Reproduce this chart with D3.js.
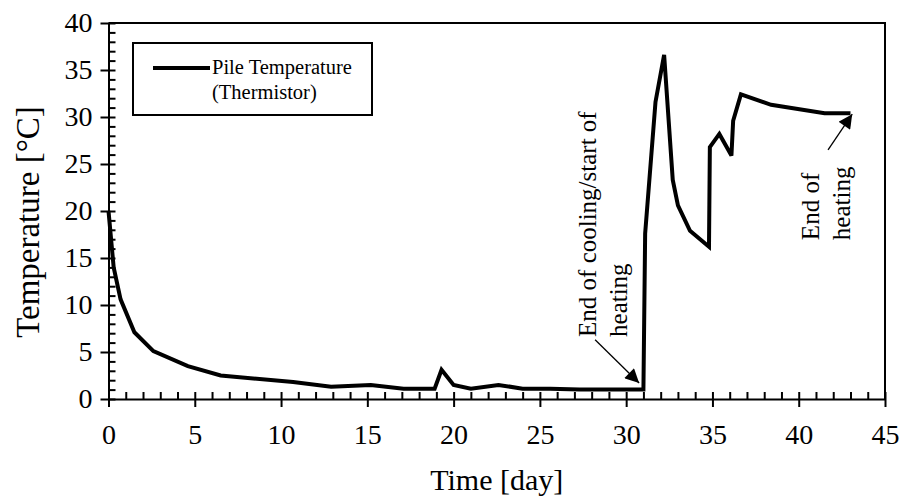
<!DOCTYPE html>
<html>
<head>
<meta charset="utf-8">
<script src="https://cdn.jsdelivr.net/npm/d3@7"></script>
<style>
  html, body { margin: 0; padding: 0; background: #fff; }
  svg { display: block; }
  text { font-family: "Liberation Serif", "Times New Roman", serif; fill: #000; }
</style>
</head>
<body>
<svg id="chart" width="902" height="497"></svg>
<script>
// ---- data ----
const timeDays = [0, 0.3, 0.7, 1.5, 2.6, 4.6, 6.5, 10.7, 12.9, 15.2, 17.1, 18.9, 19.3, 20.0, 21.0, 22.6, 24.0, 25.6, 27.3, 29.6, 31.0, 31.1, 31.7, 32.2, 32.7, 33.0, 33.7, 34.8, 34.85, 35.4, 36.1, 36.2, 36.65, 38.4, 41.5, 43.0];
const pileTemp = [20.0, 14.0, 10.6, 7.1, 5.1, 3.5, 2.5, 1.8, 1.3, 1.5, 1.1, 1.1, 3.1, 1.5, 1.1, 1.5, 1.1, 1.1, 1.0, 1.0, 1.0, 17.6, 31.6, 36.6, 23.3, 20.6, 17.9, 16.2, 26.8, 28.2, 25.9, 29.6, 32.4, 31.3, 30.4, 30.4];
const xTicks = [0, 5, 10, 15, 20, 25, 30, 35, 40, 45];
const yTicks = [0, 5, 10, 15, 20, 25, 30, 35, 40];
const seriesName = ["Pile Temperature", "(Thermistor)"];
const xTitle = "Time [day]";
const yTitle = "Temperature [°C]";
const note1Lines = ["End of cooling/start of", "heating"];
const note2Lines = ["End of", "heating"];

// ---- layout ----
const svg = d3.select("#chart");
const x = d3.scaleLinear().domain([0, 45]).range([108.5, 885]);
const y = d3.scaleLinear().domain([0, 40]).range([399, 23]);

svg.append("defs").append("marker")
  .attr("id", "arrow").attr("viewBox", "0 0 10 10")
  .attr("refX", 10).attr("refY", 5)
  .attr("markerWidth", 16).attr("markerHeight", 14)
  .attr("markerUnits", "userSpaceOnUse")
  .attr("orient", "auto")
  .append("path").attr("d", "M0,0 L10,5 L0,10 z").attr("fill", "#000");

// plot frame (top and right)
svg.append("path")
  .attr("d", `M${x(0)},${y(40)} H${x(45)} V${y(0)}`)
  .attr("fill", "none").attr("stroke", "#000").attr("stroke-width", 2);

// minor ticks (inside)
const minorX = d3.range(0, 46, 1).filter(v => v % 5 !== 0);
const minorY = d3.range(0, 41, 1).filter(v => v % 5 !== 0);
svg.append("g").attr("transform", `translate(0,${y(0)})`)
  .call(d3.axisBottom(x).tickValues(minorX).tickSize(-7).tickFormat(""))
  .call(g => g.select(".domain").remove())
  .selectAll("line").attr("stroke-width", 2);
svg.append("g").attr("transform", `translate(${x(0)},0)`)
  .call(d3.axisLeft(y).tickValues(minorY).tickSize(-7).tickFormat(""))
  .call(g => g.select(".domain").remove())
  .selectAll("line").attr("stroke-width", 2);

// major axes
const xAxis = svg.append("g").attr("transform", `translate(0,${y(0)})`)
  .call(d3.axisBottom(x).tickValues(xTicks).tickSize(8).tickPadding(17).tickSizeOuter(0));
xAxis.selectAll(".tick line").attr("y1", -7).attr("stroke-width", 2);
xAxis.select(".domain").attr("stroke-width", 2);
xAxis.selectAll("text").attr("font-size", 28).attr("font-family", "Liberation Serif");

const yAxis = svg.append("g").attr("transform", `translate(${x(0)},0)`)
  .call(d3.axisLeft(y).tickValues(yTicks).tickSize(8).tickPadding(8).tickSizeOuter(0));
yAxis.selectAll(".tick line").attr("x1", 7).attr("stroke-width", 2);
yAxis.select(".domain").attr("stroke-width", 2);
yAxis.selectAll("text").attr("font-size", 28).attr("font-family", "Liberation Serif");

// axis titles
svg.append("text").attr("x", (x(0) + x(45)) / 2).attr("y", 490)
  .attr("text-anchor", "middle").attr("font-size", 30).text(xTitle);
svg.append("text").attr("transform", `translate(39,222) rotate(-90)`)
  .attr("text-anchor", "middle").attr("font-size", 33).text(yTitle);

// data line
const pts = timeDays.map((t, i) => [t, pileTemp[i]]);
svg.append("path").datum(pts)
  .attr("fill", "none").attr("stroke", "#000").attr("stroke-width", 4)
  .attr("stroke-linejoin", "miter").attr("stroke-miterlimit", 3)
  .attr("d", d3.line().x(d => x(d[0])).y(d => y(d[1])));

// legend
const lg = svg.append("g");
lg.append("rect").attr("x", 133).attr("y", 43).attr("width", 239).attr("height", 72)
  .attr("fill", "#fff").attr("stroke", "#000").attr("stroke-width", 2);
lg.append("line").attr("x1", 153).attr("x2", 210).attr("y1", 68).attr("y2", 68)
  .attr("stroke", "#000").attr("stroke-width", 4);
lg.selectAll("text.lg").data(seriesName).join("text").attr("class", "lg")
  .attr("x", 212).attr("y", (d, i) => 74 + i * 25)
  .attr("font-size", 20.5).text(d => d);

// annotations
function note(lines, xs, yStart) {
  lines.forEach((s, i) => {
    svg.append("text")
      .attr("transform", `translate(${x(xs[i])},${y(yStart)}) rotate(-90)`)
      .attr("text-anchor", "start").attr("font-size", 25).text(s);
  });
}
note(note1Lines, [28.25, 30.05], 6.6);
note(note2Lines, [41.2, 42.95], 16.9);

svg.append("line")
  .attr("x1", x(28.2)).attr("y1", y(6.3)).attr("x2", x(30.75)).attr("y2", y(1.7))
  .attr("stroke", "#000").attr("stroke-width", 1.3).attr("marker-end", "url(#arrow)");
svg.append("line")
  .attr("x1", x(41.7)).attr("y1", y(26.5)).attr("x2", x(43.1)).attr("y2", y(30.3))
  .attr("stroke", "#000").attr("stroke-width", 1.3).attr("marker-end", "url(#arrow)");
</script>
</body>
</html>
